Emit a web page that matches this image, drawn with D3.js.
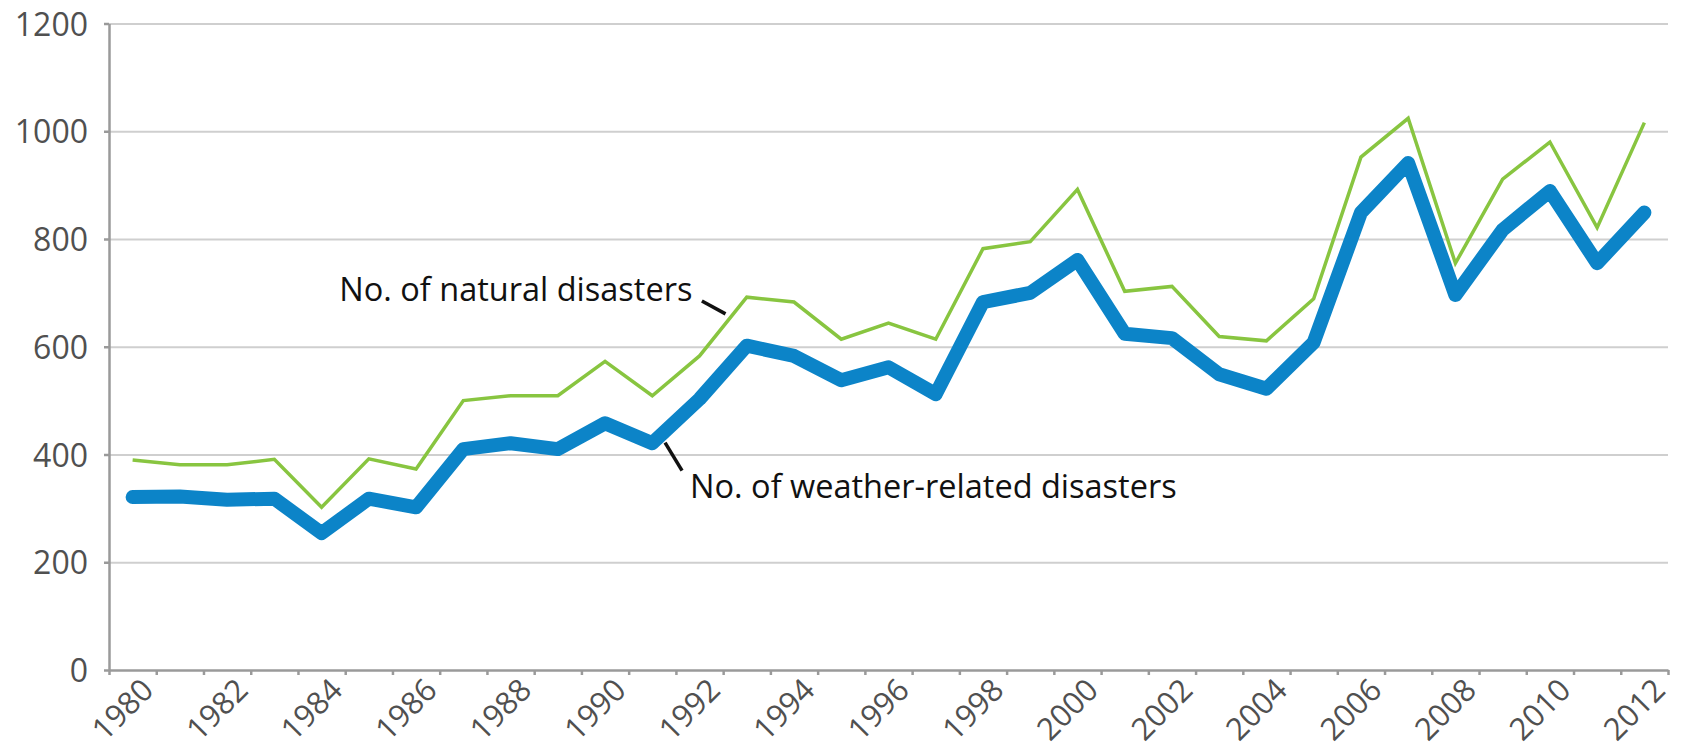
<!DOCTYPE html>
<html>
<head>
<meta charset="utf-8">
<script src="https://cdn.jsdelivr.net/npm/d3@7"></script>
<style>
  body { margin: 0; background: #fff; }
  svg { display: block; font-family: 'Open Sans', sans-serif; }
</style>
</head>
<body>
<div id="plot"></div>
<script>
var years = [1980, 1981, 1982, 1983, 1984, 1985, 1986, 1987, 1988, 1989, 1990,
  1991, 1992, 1993, 1994, 1995, 1996, 1997, 1998, 1999, 2000, 2001, 2002,
  2003, 2004, 2005, 2006, 2007, 2008, 2009, 2010, 2011, 2012]
var naturalDisasters = [390, 381, 381, 391, 302, 392, 373, 500, 509, 509, 573,
  509, 583, 692, 683, 614, 644, 614, 782, 795, 892, 703, 712,
  619, 611, 689, 952, 1024, 755, 911, 980, 821, 1016]
var weatherDisasters = [321, 322, 316, 318, 254, 318, 302, 410, 421, 410, 458,
  421, 503, 602, 583, 538, 562, 512, 683, 700, 761, 624, 616,
  549, 522, 608, 849, 941, 696, 817, 889, 755, 849]
var yTicks = [0, 200, 400, 600, 800, 1000, 1200]
var labelYears = [1980, 1982, 1984, 1986, 1988, 1990, 1992, 1994, 1996, 1998,
  2000, 2002, 2004, 2006, 2008, 2010, 2012]
var naturalLabel = 'No. of natural disasters'
var weatherLabel = 'No. of weather-related disasters'

var margin = { top: 23.5, right: 14, bottom: 81, left: 109 }
var width = 1682 - margin.left - margin.right
var height = 751 - margin.top - margin.bottom

var svg = d3.select('#plot')
  .append('svg')
  .attr('width', width + margin.left + margin.right)
  .attr('height', height + margin.top + margin.bottom)

var g = svg.append('g')
  .attr('transform', 'translate(' + margin.left + ',' + margin.top + ')')

var xBand = d3.scaleBand().domain(years).range([0, width]).padding(0)
var bw = xBand.bandwidth()
// year -> centre of its band (also used for fractional years in annotations)
var xYear = d3.scaleLinear()
  .domain([years[0], years[years.length - 1]])
  .range([xBand(years[0]) + bw / 2, xBand(years[years.length - 1]) + bw / 2])
var xEdge = d3.scaleLinear().domain([0, years.length]).range([0, width])
var yScale = d3.scaleLinear().domain([0, 1200]).range([height, 0])

// gridlines
g.append('g')
  .attr('class', 'grid')
  .call(d3.axisLeft(yScale).tickValues(yTicks.slice(1)).tickSize(-width).tickFormat(''))
  .call(function(s) { s.select('.domain').remove() })
  .selectAll('line')
  .attr('stroke', '#cfcfcf')
  .attr('stroke-width', 2)

var plotLine = d3.line()
  .x(function(d, i) { return xYear(years[i]) })
  .y(function(d) { return yScale(d) })

g.append('path')
  .datum(naturalDisasters)
  .attr('d', plotLine)
  .style('fill', 'none')
  .style('stroke', '#88c540')
  .style('stroke-width', 3.5)
  .style('stroke-linejoin', 'miter')

g.append('path')
  .datum(weatherDisasters)
  .attr('d', plotLine)
  .style('fill', 'none')
  .style('stroke', '#0c84c8')
  .style('stroke-width', 14)
  .style('stroke-linejoin', 'round')
  .style('stroke-linecap', 'round')

// x axis: ticks on band edges
g.append('g')
  .attr('transform', 'translate(0,' + height + ')')
  .call(d3.axisBottom(xEdge).tickValues(d3.range(years.length + 1)).tickSize(5).tickSizeOuter(0).tickFormat(''))
  .call(function(s) {
    s.selectAll('line, path').attr('stroke', '#9a9a9a').attr('stroke-width', 2.5)
  })

// x labels, rotated
g.append('g')
  .attr('transform', 'translate(0,' + height + ')')
  .call(d3.axisBottom(xBand).tickValues(labelYears).tickSize(0).tickPadding(0))
  .call(function(s) {
    s.select('.domain').remove()
    s.selectAll('text')
      .attr('x', 0)
      .attr('y', 0)
      .attr('dy', 0)
      .attr('text-anchor', 'end')
      .attr('transform', 'translate(' + (bw / 2 - 1) + ',22) rotate(-45)')
      .attr('fill', '#505050')
      .style('font-size', '31px')
      .style('font-family', "'Open Sans', sans-serif")
  })

// y axis
g.append('g')
  .call(d3.axisLeft(yScale).tickValues(yTicks).tickSize(5).tickPadding(16).tickSizeOuter(0).tickFormat(d3.format('d')))
  .call(function(s) {
    s.selectAll('line, path').attr('stroke', '#9a9a9a').attr('stroke-width', 2.5)
    s.selectAll('text')
      .attr('fill', '#505050')
      .attr('dy', '0.36em')
      .style('font-size', '32px')
      .style('font-family', "'Open Sans', sans-serif")
  })

// annotations
var annotations = [
  { text: naturalLabel, anchor: 'end', at: [1991.85, 685],
    leader: [[1992.05, 685], [1992.55, 661]] },
  { text: weatherLabel, anchor: 'start', at: [1991.8, 320],
    leader: [[1991.27, 422], [1991.63, 370]] }
]

annotations.forEach(function(a) {
  g.append('line')
    .attr('x1', xYear(a.leader[0][0]))
    .attr('y1', yScale(a.leader[0][1]))
    .attr('x2', xYear(a.leader[1][0]))
    .attr('y2', yScale(a.leader[1][1]))
    .attr('stroke', '#111')
    .attr('stroke-width', 3.5)
  g.append('text')
    .attr('x', xYear(a.at[0]))
    .attr('y', yScale(a.at[1]))
    .attr('text-anchor', a.anchor)
    .attr('fill', '#111')
    .style('font-size', '32.5px')
    .text(a.text)
})
</script>
</body>
</html>
